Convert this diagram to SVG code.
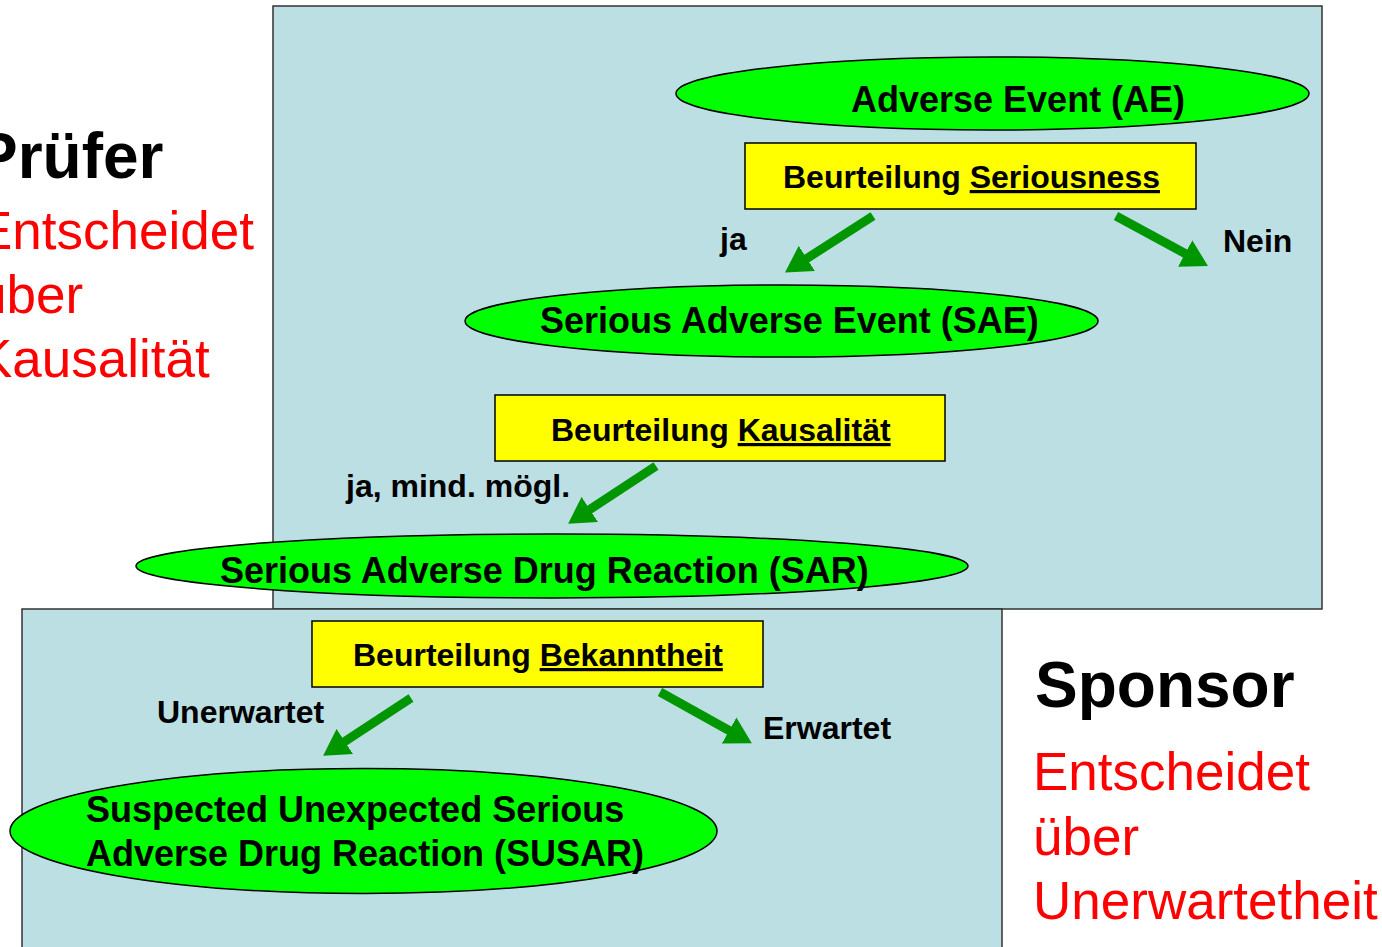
<svg xmlns="http://www.w3.org/2000/svg" width="1382" height="947" viewBox="0 0 1382 947">
<style>
.panel{fill:#BBDFE3;stroke:#333;stroke-width:1.5}
.ell{fill:#00FF00;stroke:#000;stroke-width:1.5}
.box{fill:#FFFF00;stroke:#000;stroke-width:1.5}
.t{font-family:"Liberation Sans",Arial,sans-serif;font-weight:bold;fill:#000}
.e{font-size:36px}
.b{font-size:32px}
.l{font-size:32px}
.big{font-family:"Liberation Sans",Arial,sans-serif;font-weight:bold;font-size:64px;fill:#000}
.red{font-family:"Liberation Sans",Arial,sans-serif;font-size:53px;fill:#FF0000}
.arr{stroke:#009600;stroke-width:9;fill:none;marker-end:url(#ah)}
</style>
<defs>
<marker id="ah" markerUnits="userSpaceOnUse" markerWidth="28" markerHeight="30" refX="1" refY="15" orient="auto" viewBox="0 0 28 30">
<path d="M0,0 L26,15 L0,30 Z" fill="#009600"/>
</marker>
</defs>
<rect width="1382" height="947" fill="#FFFFFF"/>
<g id="panel-pruefer">
<rect class="panel" x="273" y="6" width="1049" height="603"/>
</g>
<g id="panel-sponsor">
<rect class="panel" x="22" y="609" width="980" height="345"/>
</g>
<g id="label-pruefer">
<text class="big" x="-25" y="178">Prüfer</text>
<text class="red" x="-23" y="249">Entscheidet</text>
<text class="red" x="-23" y="313">über</text>
<text class="red" x="-23" y="377">Kausalität</text>
</g>
<g id="label-sponsor">
<text class="big" x="1035" y="707">Sponsor</text>
<text class="red" x="1033" y="790">Entscheidet</text>
<text class="red" x="1033" y="855">über</text>
<text class="red" x="1033" y="919">Unerwartetheit</text>
</g>
<g id="connectors">
<line class="arr" x1="873" y1="216" x2="806" y2="259"/>
<line class="arr" x1="1116" y1="216" x2="1186" y2="254"/>
<line class="arr" x1="656" y1="466" x2="589" y2="510"/>
<line class="arr" x1="411" y1="698" x2="344" y2="742"/>
<line class="arr" x1="660" y1="692" x2="730" y2="731"/>
<text class="t l" x="720" y="250">ja</text>
<text class="t l" x="1223" y="252">Nein</text>
<text class="t l" x="346" y="497">ja, mind. mögl.</text>
<text class="t l" x="157" y="723">Unerwartet</text>
<text class="t l" x="763" y="739">Erwartet</text>
</g>
<g id="node-ae">
<ellipse class="ell" cx="992.5" cy="93.5" rx="316.5" ry="36.5"/>
<text class="t e" x="851" y="112">Adverse Event (AE)</text>
</g>
<g id="node-seriousness">
<rect class="box" x="745" y="143" width="451" height="66"/>
<text class="t b" x="783" y="188">Beurteilung <tspan text-decoration="underline">Seriousness</tspan></text>
</g>
<g id="node-sae">
<ellipse class="ell" cx="781.5" cy="321" rx="316.5" ry="36"/>
<text class="t e" x="540" y="333">Serious Adverse Event (SAE)</text>
</g>
<g id="node-kausalitaet">
<rect class="box" x="495" y="395" width="450" height="66"/>
<text class="t b" x="551" y="441">Beurteilung <tspan text-decoration="underline">Kausalität</tspan></text>
</g>
<g id="node-sar">
<ellipse class="ell" cx="552" cy="566" rx="416" ry="32"/>
<text class="t e" x="220" y="583">Serious Adverse Drug Reaction (SAR)</text>
</g>
<g id="node-bekanntheit">
<rect class="box" x="312" y="621" width="451" height="66"/>
<text class="t b" x="353" y="666">Beurteilung <tspan text-decoration="underline">Bekanntheit</tspan></text>
</g>
<g id="node-susar">
<ellipse class="ell" cx="363.5" cy="831" rx="353.5" ry="62.5"/>
<text class="t e" x="86" y="822">Suspected Unexpected Serious</text>
<text class="t e" x="86" y="866">Adverse Drug Reaction (SUSAR)</text>
</g>
</svg>
